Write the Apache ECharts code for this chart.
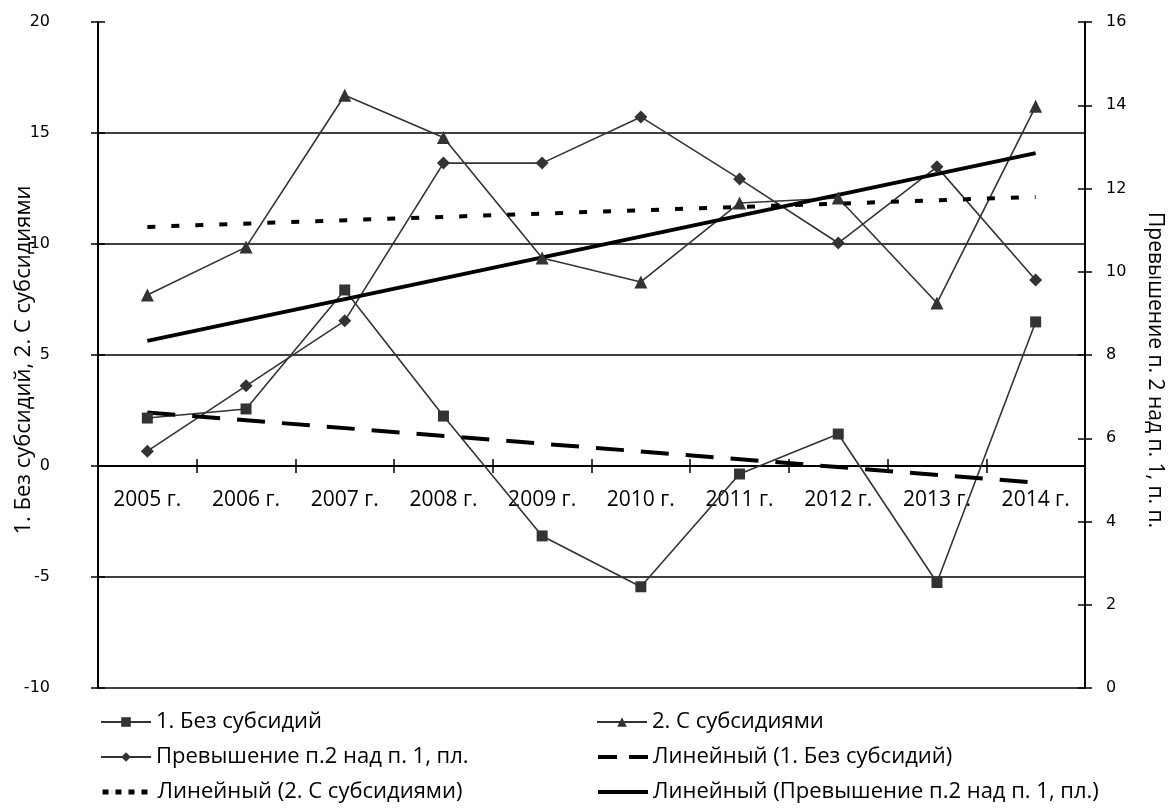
<!DOCTYPE html>
<html>
<head>
<meta charset="utf-8">
<script src="https://cdn.jsdelivr.net/npm/echarts@6/dist/echarts.min.js"></script>
<style>html,body{margin:0;padding:0;background:#fff;}#c{width:1168px;height:812px;}</style>
</head>
<body>
<div id="c"></div>
<script>
const years = ['2005 г.','2006 г.','2007 г.','2008 г.','2009 г.','2010 г.','2011 г.','2012 г.','2013 г.','2014 г.'];
const leftTicks = [-10, 20, 5];
const rightTicks = [0, 16, 2];
const noSubsidy = [2.16, 2.57, 7.93, 2.25, -3.15, -5.44, -0.36, 1.44, -5.25, 6.49];
const withSubsidy = [7.70, 9.86, 16.70, 14.80, 9.37, 8.29, 11.85, 12.07, 7.34, 16.20];
const excess = [5.69, 7.26, 8.82, 12.61, 12.61, 13.72, 12.23, 10.69, 12.52, 9.80];
const trendNoSubsidy = [2.41, null, null, null, null, null, null, null, null, -0.75];
const trendWithSubsidy = [10.77, null, null, null, null, null, null, null, null, 12.12];
const trendExcess = [8.34, null, null, null, null, null, null, null, null, 12.85];
const names = ['1. Без субсидий','2. С субсидиями','Превышение п.2 над п. 1, пл.','Линейный (1. Без субсидий)','Линейный (2. С субсидиями)','Линейный (Превышение п.2 над п. 1, пл.)'];

const chart = echarts.init(document.getElementById('c'), null, {renderer:'canvas'});
const axisFont = {fontFamily:'DejaVu Sans', fontSize:16, color:'#000'};
const textFont = 'Open Sans';
const lineCol = '#333';
const gridTop = 22, gridBottomPx = 688;
const zeroOffset = -(gridBottomPx - (gridTop + (gridBottomPx - gridTop) * (leftTicks[1] - 0) / (leftTicks[1] - leftTicks[0])));

function legendAt(name, left, cy, extra) {
  return {
    data:[Object.assign({name:name}, extra || {})], orient:'horizontal', left:left, top:cy - 13,
    itemWidth:50, itemHeight:12, itemGap:5, padding:0, selectedMode:false,
    textStyle:{fontFamily:textFont, fontSize:22, color:'#000'}
  };
}
const hide = {itemStyle:{opacity:0}};

chart.setOption({
  animation:false,
  backgroundColor:'#fff',
  grid:{left:98, right:83, top:gridTop, bottom:812 - gridBottomPx, containLabel:false, outerBoundsMode:'none'},
  legend:[
    legendAt(names[0], 100, 724),
    legendAt(names[1], 596, 724),
    legendAt(names[2], 100, 759),
    legendAt(names[3], 596, 759, Object.assign({lineStyle:{type:[19,12], width:4, color:'#000'}}, hide)),
    legendAt(names[4], 100, 794, Object.assign({lineStyle:{type:[6,7], width:5, color:'#000'}}, hide)),
    legendAt(names[5], 596, 794, Object.assign({lineStyle:{width:4, color:'#000'}}, hide))
  ],
  xAxis:[
    {type:'category', data:years, boundaryGap:true, position:'bottom', offset:zeroOffset,
     axisLine:{onZero:false, lineStyle:{color:'#000', width:2}},
     axisTick:{show:true, length:7, lineStyle:{color:'#000', width:1.5}},
     axisLabel:{margin:24, fontFamily:textFont, fontSize:21, color:'#000'},
     splitLine:{show:false}},
    {type:'category', data:years, boundaryGap:true, position:'bottom', offset:zeroOffset,
     axisLine:{onZero:false, show:false},
     axisTick:{show:true, inside:true, length:7, lineStyle:{color:'#000', width:1.5}},
     axisLabel:{show:false}, splitLine:{show:false}}
  ],
  yAxis:[
    {type:'value', min:leftTicks[0], max:leftTicks[1], interval:leftTicks[2], position:'left',
     name:'1. Без субсидий, 2. С субсидиями', nameLocation:'middle', nameGap:63, nameRotate:90, nameMoveOverlap:false,
     nameTextStyle:{fontFamily:textFont, fontSize:22, color:'#000', padding:[0,10,0,0]},
     axisLine:{show:true, onZero:false, lineStyle:{color:'#000', width:2}},
     axisTick:{show:true, length:7, lineStyle:{color:'#000', width:1.5}},
     axisLabel:Object.assign({margin:48}, axisFont),
     splitLine:{show:true, showMaxLine:false, lineStyle:{color:'#000', width:1.5}}},
    {type:'value', min:rightTicks[0], max:rightTicks[1], interval:rightTicks[2], position:'right',
     name:'Превышение п. 2 над п. 1, п. п.', nameLocation:'middle', nameGap:59, nameRotate:-90, nameMoveOverlap:false,
     nameTextStyle:{fontFamily:textFont, fontSize:21, color:'#000', padding:[0,0,0,30]},
     axisLine:{show:true, onZero:false, lineStyle:{color:'#000', width:2}},
     axisTick:{show:true, length:7, lineStyle:{color:'#000', width:1.5}},
     axisLabel:Object.assign({margin:21}, axisFont),
     splitLine:{show:false}},
    {type:'value', min:leftTicks[0], max:leftTicks[1], interval:leftTicks[2], position:'left',
     axisLine:{show:false, onZero:false}, axisTick:{show:true, inside:true, length:7, lineStyle:{color:'#000', width:1.5}},
     axisLabel:{show:false}, splitLine:{show:false}},
    {type:'value', min:rightTicks[0], max:rightTicks[1], interval:rightTicks[2], position:'right',
     axisLine:{show:false, onZero:false}, axisTick:{show:true, inside:true, length:7, lineStyle:{color:'#000', width:1.5}},
     axisLabel:{show:false}, splitLine:{show:false}}
  ],
  series:[
    {name:names[0], type:'line', yAxisIndex:0, data:noSubsidy, symbol:'rect', symbolSize:11,
     lineStyle:{color:lineCol, width:1.6}, itemStyle:{color:lineCol}},
    {name:names[1], type:'line', yAxisIndex:0, data:withSubsidy, symbol:'triangle', symbolSize:13,
     lineStyle:{color:lineCol, width:1.6}, itemStyle:{color:lineCol}},
    {name:names[2], type:'line', yAxisIndex:1, data:excess, symbol:'diamond', symbolSize:13,
     lineStyle:{color:lineCol, width:1.6}, itemStyle:{color:lineCol}},
    {name:names[3], type:'line', yAxisIndex:0, data:trendNoSubsidy, connectNulls:true, symbol:'none',
     lineStyle:{color:'#000', width:4, type:[28,17]}, itemStyle:{color:'#000'}},
    {name:names[4], type:'line', yAxisIndex:0, data:trendWithSubsidy, connectNulls:true, symbol:'none',
     lineStyle:{color:'#000', width:4, type:[8,16]}, itemStyle:{color:'#000'}},
    {name:names[5], type:'line', yAxisIndex:1, data:trendExcess, connectNulls:true, symbol:'none',
     lineStyle:{color:'#000', width:4}, itemStyle:{color:'#000'}}
  ]
});
</script>
</body>
</html>
